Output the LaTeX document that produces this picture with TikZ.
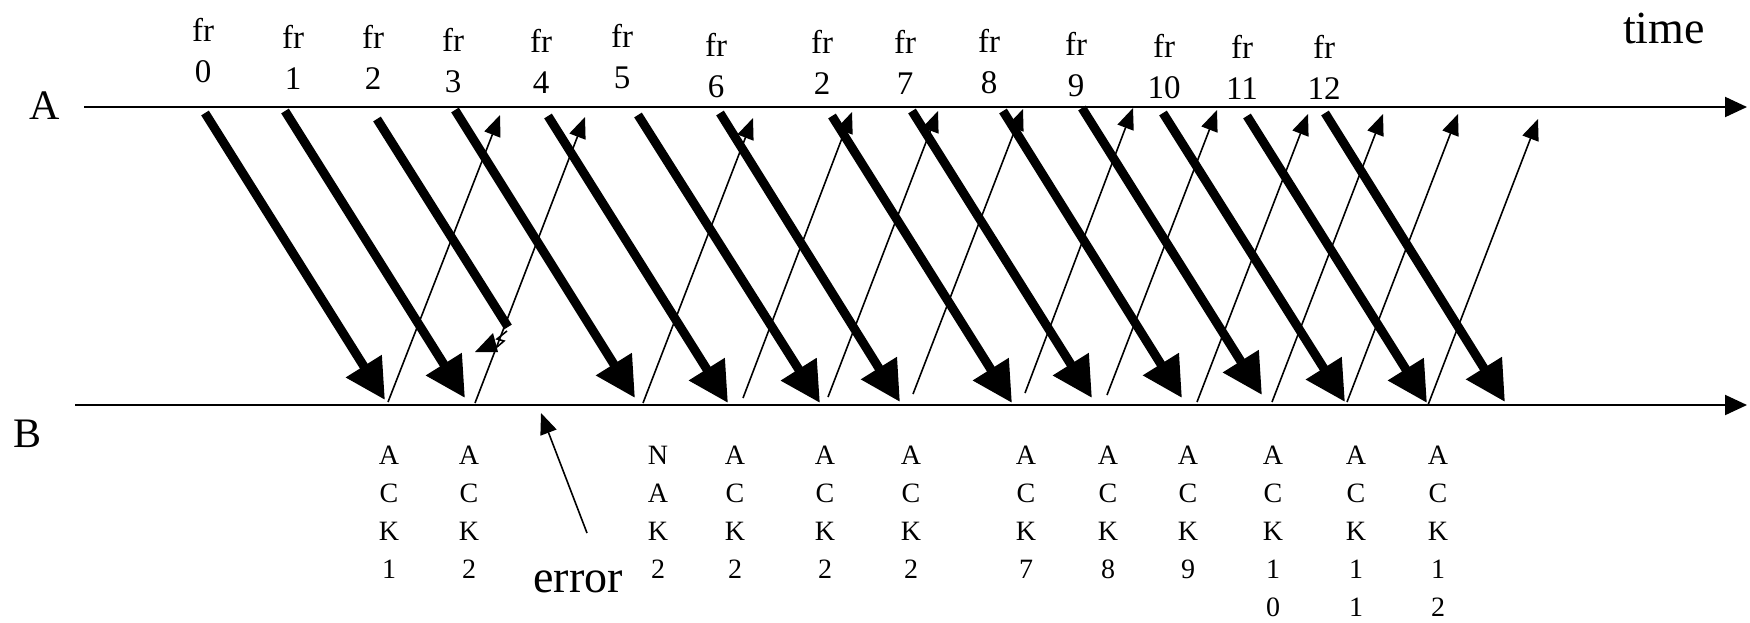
\documentclass[tikz,border=0pt]{standalone}
\usepackage{fontspec}
\setmainfont{Liberation Serif}
\usetikzlibrary{arrows.meta}
\begin{document}
\begin{tikzpicture}[x=0.5pt,y=-0.5pt,
  axis/.style={line width=1pt,-{Triangle[length=11pt,width=10pt]}},
  dataframe/.style={line width=4.5pt,-{Triangle[length=20pt,width=20pt]}},
  brokenframe/.style={line width=4.5pt},
  ackline/.style={line width=0.8pt,-{Triangle[length=10.5pt,width=8.5pt]}},
  biglbl/.style={font=\fontsize{21}{25}\selectfont, inner sep=0pt},
  hugelbl/.style={font=\fontsize{23}{27}\selectfont, inner sep=0pt},
  frlbl/.style={font=\fontsize{16.5}{20.5}\selectfont, align=center, inner sep=0pt},
  acklbl/.style={font=\fontsize{14}{19}\selectfont, align=center, inner sep=0pt, anchor=north},
]
\useasboundingbox (0,0) rectangle (1750,622);
% time axes
\coordinate (A0) at (84,107); \coordinate (A1) at (1747,107);
\coordinate (B0) at (75,405); \coordinate (B1) at (1747,405);
\draw[axis] (A0) -- (A1);
\draw[axis] (B0) -- (B1);
\node[biglbl] (lA) at (45,106) {A};
\node[biglbl] (lB) at (28,434) {B};
\node[hugelbl] (time) at (1664,28) {time};
% frame labels
\foreach \n/\t/\x/\y in {0/0/203/51, 1/1/293/57, 2/2/373/57, 3/3/453/61, 4/4/541/61,
  5/5/622/57, 6/6/716/66, 2r/2/822/62, 7/7/905/62, 8/8/989/62, 9/9/1076/65,
  10/10/1164/67, 11/11/1242/67, 12/12/1324/67}
  \node[frlbl] (fr\n) at (\x,\y) {fr\\\t};
% data frames
\foreach \n/\sx/\sy/\ex/\ey in {0/205/113/385/400, 1/285/111/465/398, 3/455/110/635/398,
  4/548/116/728/403, 5/638/115/820/403, 6/720/113/900/402, 2r/832/116/1012/403,
  7/912/111/1092/398, 8/1003/111/1182/398, 9/1082/108/1262/395, 10/1163/113/1345/402,
  11/1247/116/1427/403, 12/1325/113/1505/402}{
  \coordinate (s\n) at (\sx,\sy); \coordinate (e\n) at (\ex,\ey);
  \draw[dataframe] (s\n) -- (e\n);
}
% broken frame 2
\coordinate (s2) at (377,119); \coordinate (e2) at (508,327);
\draw[brokenframe] (s2) -- (e2);
\coordinate (h1) at (475,352); \coordinate (h2) at (498,352); \coordinate (h3) at (493,333);
\fill (h1) -- (h2) -- (h3) -- cycle;
\coordinate (x1) at (507,331); \coordinate (x2) at (497,339); \coordinate (x3) at (504,341); \coordinate (x4) at (497,347);
\draw[line width=0.8pt] (x1) -- (x2) -- (x3) -- (x4);
% acknowledgements
\foreach \n/\bx/\by/\tx/\ty in {1/388/402/500/115, 2/475/403/585/117, 3/643/403/753/118,
  4/743/398/852/112, 5/828/397/938/111, 6/913/394/1023/109, 7/1025/393/1133/108,
  8/1107/395/1217/110, 9/1197/402/1308/114, 10/1272/402/1383/114, 11/1347/402/1458/114,
  12/1428/405/1538/119}{
  \coordinate (b\n) at (\bx,\by); \coordinate (t\n) at (\tx,\ty);
  \draw[ackline] (b\n) -- (t\n);
}
\foreach \n/\x/\txt in {1/389/{A\\C\\K\\1}, 2/469/{A\\C\\K\\2}, 3/658/{N\\A\\K\\2},
  4/735/{A\\C\\K\\2}, 5/825/{A\\C\\K\\2}, 6/911/{A\\C\\K\\2}, 7/1026/{A\\C\\K\\7},
  8/1108/{A\\C\\K\\8}, 9/1188/{A\\C\\K\\9}, 10/1273/{A\\C\\K\\1\\0},
  11/1356/{A\\C\\K\\1\\1}, 12/1438/{A\\C\\K\\1\\2}}
  \node[acklbl] (ack\n) at (\x,446) {\txt};
% error
\node[hugelbl] (err) at (578,582) {error};
\coordinate (etail) at (587,533); \coordinate (etip) at (541,413);
\draw[ackline] (etail) -- (etip);
\end{tikzpicture}
\end{document}
